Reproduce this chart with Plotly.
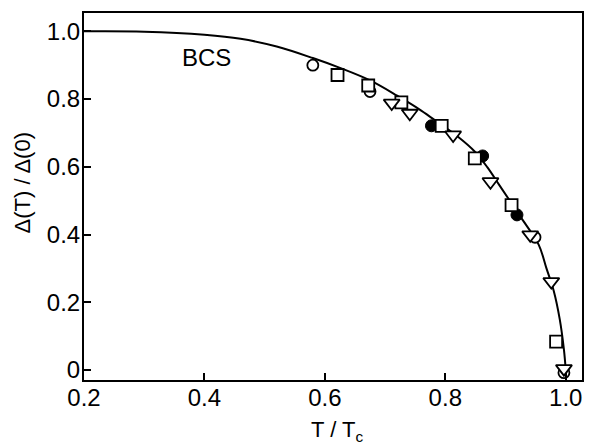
import plotly.graph_objects as go

# BCS curve
bcs_t = [0.2, 0.3, 0.4, 0.46, 0.52, 0.58, 0.625, 0.675, 0.72, 0.76, 0.79, 0.82, 0.85,
         0.87, 0.89, 0.925, 0.955, 0.968, 0.98, 0.99, 0.997, 1.0]
bcs_d = [1.0, 0.999, 0.99, 0.978, 0.955, 0.921, 0.892, 0.855, 0.81, 0.766, 0.728, 0.69, 0.643,
         0.598, 0.545, 0.452, 0.37, 0.30, 0.234, 0.15, 0.06, 0.0]

open_circle_t = [0.58, 0.675, 0.949, 0.997]
open_circle_d = [0.90, 0.822, 0.392, -0.008]

filled_circle_t = [0.777, 0.862, 0.919]
filled_circle_d = [0.721, 0.632, 0.458]

square_t = [0.621, 0.672, 0.727, 0.794, 0.849, 0.910, 0.984]
square_d = [0.871, 0.840, 0.790, 0.721, 0.625, 0.487, 0.084]

triangle_t = [0.711, 0.741, 0.813, 0.875, 0.941, 0.976, 0.997]
triangle_d = [0.788, 0.758, 0.694, 0.556, 0.399, 0.261, 0.004]

x_ticks = [0.2, 0.4, 0.6, 0.8, 1.0]
x_tick_labels = ["0.2", "0.4", "0.6", "0.8", "1.0"]
y_ticks = [0, 0.2, 0.4, 0.6, 0.8, 1.0]
y_tick_labels = ["0", "0.2", "0.4", "0.6", "0.8", "1.0"]

FONT = "Liberation Sans, Arial, sans-serif"

fig = go.Figure()
fig.add_trace(go.Scatter(x=bcs_t, y=bcs_d, mode="lines", line=dict(color="black", width=2, shape="spline"),
                         showlegend=False, hoverinfo="skip"))
fig.add_trace(go.Scatter(x=open_circle_t, y=open_circle_d, mode="markers",
                         marker=dict(symbol="circle", size=11, color="white", line=dict(color="black", width=1.8)),
                         showlegend=False))
fig.add_trace(go.Scatter(x=filled_circle_t, y=filled_circle_d, mode="markers",
                         marker=dict(symbol="circle", size=12, color="black", line=dict(color="black", width=1)),
                         showlegend=False))
fig.add_trace(go.Scatter(x=square_t, y=square_d, mode="markers",
                         marker=dict(symbol="square", size=12, color="white", line=dict(color="black", width=1.8)),
                         showlegend=False))
fig.add_trace(go.Scatter(x=triangle_t, y=triangle_d, mode="markers",
                         marker=dict(symbol="triangle-down", size=14, color="white", line=dict(color="black", width=1.8)),
                         showlegend=False))

fig.add_annotation(x=0.404, y=0.923, text="BCS", showarrow=False,
                   font=dict(family=FONT, size=24, color="black"))

# axis titles placed explicitly
fig.add_annotation(xref="paper", yref="y", x=-0.1235, y=0.555, text="Δ(T) / Δ(0)",
                   textangle=-90, showarrow=False, xanchor="center", yanchor="middle",
                   font=dict(family=FONT, size=22, color="black"))
fig.add_annotation(xref="paper", yref="paper", x=0.508, y=-0.139, text="T / T<sub>c</sub>",
                   showarrow=False, xanchor="center", yanchor="middle",
                   font=dict(family=FONT, size=22, color="black"))

fig.update_layout(
    width=596, height=445,
    margin=dict(l=84, r=14, t=13, b=65),
    plot_bgcolor="white", paper_bgcolor="white",
    font=dict(family=FONT, size=24, color="black"),
    xaxis=dict(range=[0.2, 1.027], tickvals=x_ticks, ticktext=x_tick_labels,
               ticks="inside", ticklen=7, tickwidth=1.5, tickcolor="black",
               showline=True, linecolor="black", linewidth=2, mirror=True,
               showgrid=False, zeroline=False, ticklabelstandoff=-5),
    yaxis=dict(range=[-0.0295, 1.054], tickvals=y_ticks, ticktext=y_tick_labels,
               ticks="inside", ticklen=7, tickwidth=1.5, tickcolor="black",
               showline=True, linecolor="black", linewidth=2, mirror=True,
               showgrid=False, zeroline=False, ticklabelstandoff=-3),
)

fig.write_html("out.html", config={"displayModeBar": False},
               post_script="document.body.style.margin='0';document.body.style.overflow='hidden';")
